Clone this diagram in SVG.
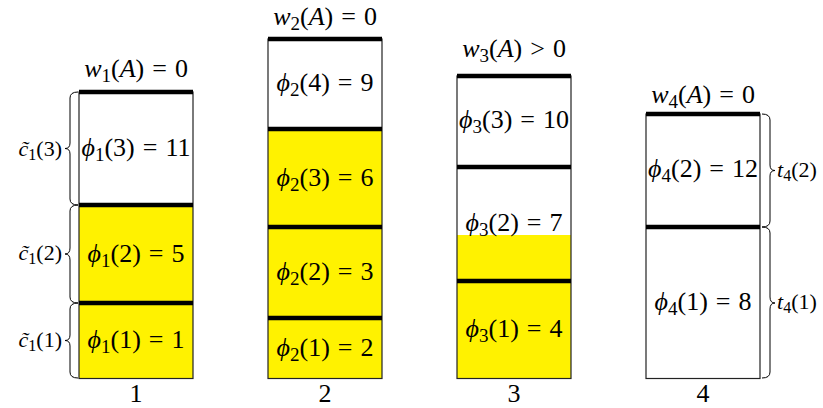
<svg xmlns="http://www.w3.org/2000/svg" width="823" height="408" viewBox="0 0 823 408">
<style>
text{font-family:"Liberation Serif","DejaVu Serif",serif;fill:#000}
.m{font-size:26px;text-anchor:middle}
.s{font-size:22px}
.i{font-style:italic}
.box{fill:none;stroke:#222;stroke-width:1.2}
.thick{stroke:#000;stroke-width:4.5}
.y{fill:#fff200}
.br{fill:none;stroke:#000;stroke-width:1}
</style>
<rect width="823" height="408" fill="#fff"/>
<g id="col1">
<rect class="y" x="79" y="205" width="114" height="173.5"/>
<rect class="box" x="79" y="92" width="114" height="286.5"/>
<line class="thick" x1="79" y1="92" x2="193" y2="92"/>
<line class="thick" x1="79" y1="205" x2="193" y2="205"/>
<line class="thick" x1="79" y1="303" x2="193" y2="303"/>
<text class="m" x="136" y="77"><tspan class="i">w</tspan><tspan font-size="19" dy="5">1</tspan><tspan dy="-5">(</tspan><tspan class="i">A</tspan>)<tspan dx="8">=</tspan><tspan dx="8">0</tspan></text>
<text class="m" x="136" y="156"><tspan class="i">ϕ</tspan><tspan font-size="19" dy="5">1</tspan><tspan dy="-5">(3)</tspan><tspan dx="8">=</tspan><tspan dx="8">11</tspan></text>
<text class="m" x="136" y="262"><tspan class="i">ϕ</tspan><tspan font-size="19" dy="5">1</tspan><tspan dy="-5">(2)</tspan><tspan dx="8">=</tspan><tspan dx="8">5</tspan></text>
<text class="m" x="136" y="348"><tspan class="i">ϕ</tspan><tspan font-size="19" dy="5">1</tspan><tspan dy="-5">(1)</tspan><tspan dx="8">=</tspan><tspan dx="8">1</tspan></text>
<text class="m" x="136" y="402">1</text>
</g>
<g id="col2">
<rect class="y" x="268" y="129" width="114" height="249.5"/>
<rect class="box" x="268" y="39" width="114" height="339.5"/>
<line class="thick" x1="268" y1="39" x2="382" y2="39"/>
<line class="thick" x1="268" y1="129" x2="382" y2="129"/>
<line class="thick" x1="268" y1="227" x2="382" y2="227"/>
<line class="thick" x1="268" y1="318" x2="382" y2="318"/>
<text class="m" x="325" y="25"><tspan class="i">w</tspan><tspan font-size="19" dy="5">2</tspan><tspan dy="-5">(</tspan><tspan class="i">A</tspan>)<tspan dx="8">=</tspan><tspan dx="8">0</tspan></text>
<text class="m" x="325" y="91"><tspan class="i">ϕ</tspan><tspan font-size="19" dy="5">2</tspan><tspan dy="-5">(4)</tspan><tspan dx="8">=</tspan><tspan dx="8">9</tspan></text>
<text class="m" x="325" y="186"><tspan class="i">ϕ</tspan><tspan font-size="19" dy="5">2</tspan><tspan dy="-5">(3)</tspan><tspan dx="8">=</tspan><tspan dx="8">6</tspan></text>
<text class="m" x="325" y="280"><tspan class="i">ϕ</tspan><tspan font-size="19" dy="5">2</tspan><tspan dy="-5">(2)</tspan><tspan dx="8">=</tspan><tspan dx="8">3</tspan></text>
<text class="m" x="325" y="356"><tspan class="i">ϕ</tspan><tspan font-size="19" dy="5">2</tspan><tspan dy="-5">(1)</tspan><tspan dx="8">=</tspan><tspan dx="8">2</tspan></text>
<text class="m" x="325" y="402">2</text>
</g>
<g id="col3">
<rect class="y" x="457" y="235" width="114" height="143.5"/>
<rect class="box" x="457" y="76" width="114" height="302.5"/>
<line class="thick" x1="457" y1="76" x2="571" y2="76"/>
<line class="thick" x1="457" y1="167" x2="571" y2="167"/>
<line class="thick" x1="457" y1="281" x2="571" y2="281"/>
<text class="m" x="514" y="57"><tspan class="i">w</tspan><tspan font-size="19" dy="5">3</tspan><tspan dy="-5">(</tspan><tspan class="i">A</tspan>)<tspan dx="8">&gt;</tspan><tspan dx="8">0</tspan></text>
<text class="m" x="514" y="128"><tspan class="i">ϕ</tspan><tspan font-size="19" dy="5">3</tspan><tspan dy="-5">(3)</tspan><tspan dx="8">=</tspan><tspan dx="8">10</tspan></text>
<text class="m" x="514" y="231"><tspan class="i">ϕ</tspan><tspan font-size="19" dy="5">3</tspan><tspan dy="-5">(2)</tspan><tspan dx="8">=</tspan><tspan dx="8">7</tspan></text>
<text class="m" x="514" y="337"><tspan class="i">ϕ</tspan><tspan font-size="19" dy="5">3</tspan><tspan dy="-5">(1)</tspan><tspan dx="8">=</tspan><tspan dx="8">4</tspan></text>
<text class="m" x="514" y="402">3</text>
</g>
<g id="col4">
<rect class="box" x="646" y="114" width="114" height="264.5"/>
<line class="thick" x1="646" y1="114" x2="760" y2="114"/>
<line class="thick" x1="646" y1="227" x2="760" y2="227"/>
<text class="m" x="703" y="103"><tspan class="i">w</tspan><tspan font-size="19" dy="5">4</tspan><tspan dy="-5">(</tspan><tspan class="i">A</tspan>)<tspan dx="8">=</tspan><tspan dx="8">0</tspan></text>
<text class="m" x="703" y="177"><tspan class="i">ϕ</tspan><tspan font-size="19" dy="5">4</tspan><tspan dy="-5">(2)</tspan><tspan dx="8">=</tspan><tspan dx="8">12</tspan></text>
<text class="m" x="703" y="310"><tspan class="i">ϕ</tspan><tspan font-size="19" dy="5">4</tspan><tspan dy="-5">(1)</tspan><tspan dx="8">=</tspan><tspan dx="8">8</tspan></text>
<text class="m" x="703" y="402">4</text>
</g>
<g id="connectors">
<path class="br" d="M78,92 Q70,92 70,98 L70,143 Q70,148.5 65,148.5 Q70,148.5 70,154 L70,199 Q70,205 78,205"/>
<path class="br" d="M78,205 Q70,205 70,211 L70,248 Q70,254 65,254 Q70,254 70,260 L70,297 Q70,303 78,303"/>
<path class="br" d="M78,303 Q70,303 70,309 L70,335 Q70,340.5 65,340.5 Q70,340.5 70,346 L70,372 Q70,378 78,378"/>
<path class="br" d="M762,114 Q770,114 770,120 L770,165 Q770,170.5 775,170.5 Q770,170.5 770,176 L770,221 Q770,227 762,227"/>
<path class="br" d="M762,227 Q770,227 770,233 L770,297 Q770,303 775,303 Q770,303 770,309 L770,372 Q770,378 762,378"/>
</g>
<g id="brace-labels">
<text class="s" x="62" y="156" text-anchor="end"><tspan class="i">c̃</tspan><tspan font-size="16" dy="4">1</tspan><tspan dy="-4">(3)</tspan></text>
<text class="s" x="62" y="260" text-anchor="end"><tspan class="i">c̃</tspan><tspan font-size="16" dy="4">1</tspan><tspan dy="-4">(2)</tspan></text>
<text class="s" x="62" y="347" text-anchor="end"><tspan class="i">c̃</tspan><tspan font-size="16" dy="4">1</tspan><tspan dy="-4">(1)</tspan></text>
<text class="s" x="777" y="177"><tspan class="i">t</tspan><tspan font-size="16" dy="4">4</tspan><tspan dy="-4">(2)</tspan></text>
<text class="s" x="777" y="309"><tspan class="i">t</tspan><tspan font-size="16" dy="4">4</tspan><tspan dy="-4">(1)</tspan></text>
</g>
</svg>
